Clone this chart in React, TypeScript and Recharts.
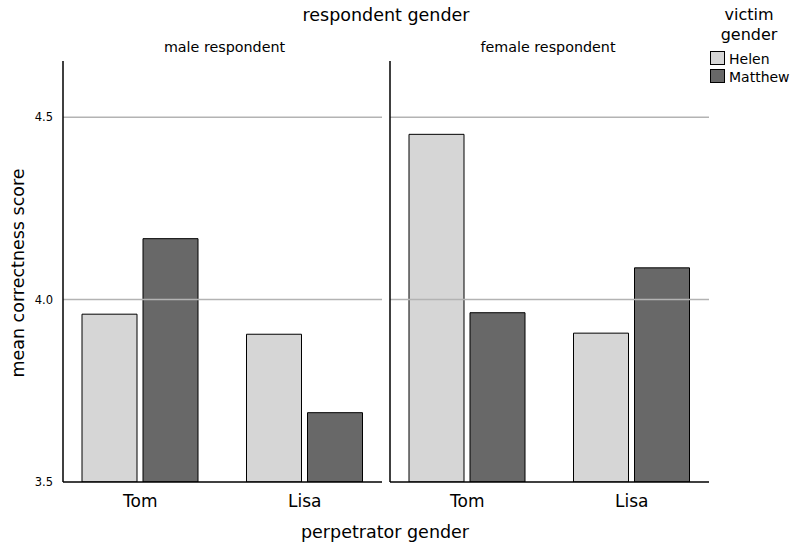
import { BarChart, Bar, XAxis, YAxis, ReferenceLine } from "recharts";

const perpetrators = ["Tom", "Lisa"];
const maleHelen = [3.96, 3.905];
const maleMatthew = [4.167, 3.69];
const femaleHelen = [4.453, 3.908];
const femaleMatthew = [3.964, 4.087];
const yTicks = [3.5, 4.0, 4.5];
const gridValues = [4.0, 4.5];

const FONT = "'DejaVu Sans', sans-serif";

const build = (helen: number[], matthew: number[]) =>
  perpetrators.map((p, i) => ({ name: p, Helen: helen[i], Matthew: matthew[i] }));

const maleData = build(maleHelen, maleMatthew);
const femaleData = build(femaleHelen, femaleMatthew);

function Panel({ data, showTicks }: { data: any[]; showTicks: boolean }) {
  return (
    <BarChart
      width={382}
      height={546}
      data={data}
      margin={{ top: 61, right: 0, left: 0, bottom: 0 }}
      barGap={6}
      barSize={55}
    >
      {gridValues.map((v) => (
        <ReferenceLine key={v} y={v} stroke="#b3b3b3" strokeWidth={1.5} />
      ))}
      <XAxis
        dataKey="name"
        height={64}
        padding={{ left: -5, right: -5 }}
        axisLine={{ stroke: "#000", strokeWidth: 1.5 }}
        tickLine={false}
        tickSize={0}
        tickMargin={13}
        tick={{ fill: "#000", fontSize: 17, fontFamily: FONT }}
      />
      <YAxis
        width={63}
        domain={[3.5, 4.654]}
        ticks={yTicks}
        allowDataOverflow
        axisLine={{ stroke: "#000", strokeWidth: 1.5 }}
        tickLine={false}
        tickSize={0}
        tickMargin={10}
        tick={showTicks ? { fill: "#000", fontSize: 11.5, fontFamily: FONT } : false}
        tickFormatter={(v: number) => v.toFixed(1)}
      />
      <Bar dataKey="Helen" fill="#d6d6d6" stroke="#000" strokeWidth={1} isAnimationActive={false} />
      <Bar dataKey="Matthew" fill="#686868" stroke="#000" strokeWidth={1} isAnimationActive={false} />
    </BarChart>
  );
}

export default function App() {
  return (
    <div style={{ position: "absolute", left: 0, top: 0, width: 793, height: 546, background: "#fff" }}>
      <div style={{ position: "absolute", left: 0, top: 0 }}>
        <Panel data={maleData} showTicks />
      </div>
      <div style={{ position: "absolute", left: 327, top: 0 }}>
        <Panel data={femaleData} showTicks={false} />
      </div>
      <svg
        width={793}
        height={546}
        style={{ position: "absolute", left: 0, top: 0, pointerEvents: "none" }}
        fontFamily={FONT}
      >
        <text x={386} y={21} textAnchor="middle" fontSize={17.5} fill="#000">respondent gender</text>
        <text x={224.5} y={52} textAnchor="middle" fontSize={14.3} fill="#000">male respondent</text>
        <text x={548} y={52} textAnchor="middle" fontSize={14.3} fill="#000">female respondent</text>
        <text x={385} y={538} textAnchor="middle" fontSize={17.5} fill="#000">perpetrator gender</text>
        <text
          x={24}
          y={273}
          textAnchor="middle"
          fontSize={17.5}
          fill="#000"
          transform="rotate(-90 24 273)"
        >
          mean correctness score
        </text>
        <text x={749} y={20} textAnchor="middle" fontSize={16} fill="#000">victim</text>
        <text x={749} y={40} textAnchor="middle" fontSize={16} fill="#000">gender</text>
        <rect x={710.5} y={51.5} width={14} height={13} fill="#d6d6d6" stroke="#000" />
        <text x={729} y={64} fontSize={14} fill="#000">Helen</text>
        <rect x={710.5} y={69.5} width={14} height={13} fill="#686868" stroke="#000" />
        <text x={729} y={82} fontSize={14} fill="#000">Matthew</text>
      </svg>
    </div>
  );
}
